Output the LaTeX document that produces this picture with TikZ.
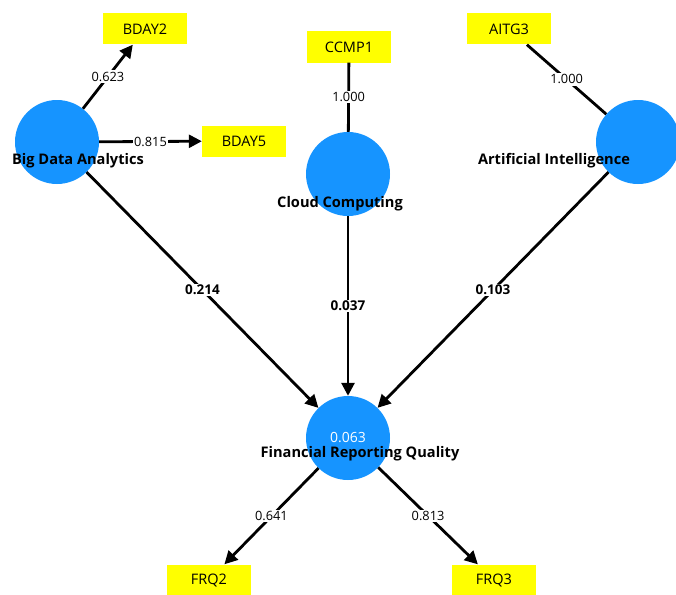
\documentclass[tikz,border=0pt]{standalone}
\usepackage{fontspec}
\setmainfont{Open Sans}
\usetikzlibrary{positioning}
\usetikzlibrary{arrows.meta, shapes, calc}
\definecolor{plsblue}{RGB}{22,148,255}
\definecolor{plsyellow}{RGB}{255,255,0}

\begin{document}
\begin{tikzpicture}[x=1pt, y=-1pt, >={Triangle[length=13pt,width=13pt]}, font=\fontsize{12.8}{15}\selectfont]%
            \tikzstyle{lat} = [ circle, fill = plsblue, minimum size = 84pt, inner sep = 0pt, text = white, font = \fontsize{14}{16}\selectfont]
            \tikzstyle{ind} = [ rectangle, fill = plsyellow, minimum width = 84pt, minimum height = 31pt, inner sep = 0pt, font = \fontsize{14.5}{16}\selectfont]
            \tikzstyle{latname} = [ inner sep = 0pt, font = \fontsize{14.6}{16}\selectfont\bfseries]
            \tikzstyle{conn} = [ line width = 2.8pt]
            \tikzstyle{coef} = [ midway, fill = white, inner sep = 1.5pt]
            \tikzstyle{beta} = [ coef, font = \fontsize{13.5}{15}\selectfont\bfseries]
            \useasboundingbox (0,0) rectangle (676,594);
        %%
            %% Latent variables
            \node [lat] (bda) at (57,142) {};
            \node [lat] (cc) at (348,174) {};
            \node [lat] (ai) at (638,142) {};
            \node [lat] (frq) at (348,438) {0.063};

            %% Indicators
            \node [ind] (bday2) at (145,29) {BDAY2};
            \node [ind] (bday5) at (244,141) {BDAY5};
            \node [ind] (ccmp1) at (349,47) {CCMP1};
            \node [ind] (aitg3) at (509,29) {AITG3};
            \node [ind] (frq2) at (209,580) {FRQ2};
            \node [ind] (frq3) at (494,580) {FRQ3};

            %% Outer loadings
            \draw[conn, ->] (bda) -- node[coef] {0.623} (bday2);
            \draw[conn, ->] (bda) -- node[coef] {0.815} (bday5);
            \draw[conn] (ccmp1) -- node[coef] {1.000} (cc);
            \draw[conn] (aitg3) -- node[coef] {1.000} (ai);
            \draw[conn, ->] (frq) -- node[coef] {0.641} (frq2);
            \draw[conn, ->] (frq) -- node[coef] {0.813} (frq3);

            %% Path coefficients
            \draw[conn, ->] (bda) -- node[beta] {0.214} (frq);
            \draw[conn, ->] (cc) -- node[beta] {0.037} (frq);
            \draw[conn, ->] (ai) -- node[beta] {0.103} (frq);

            %% Names
            \node [latname] (bda_name) at (78,161) {Big Data Analytics};
            \node [latname] (cc_name) at (340,204) {Cloud Computing};
            \node [latname] (ai_name) at (554,161) {Artificial Intelligence};
            \node [latname] (frq_name) at (360,454) {Financial Reporting Quality};
        \end{tikzpicture}
\end{document}
